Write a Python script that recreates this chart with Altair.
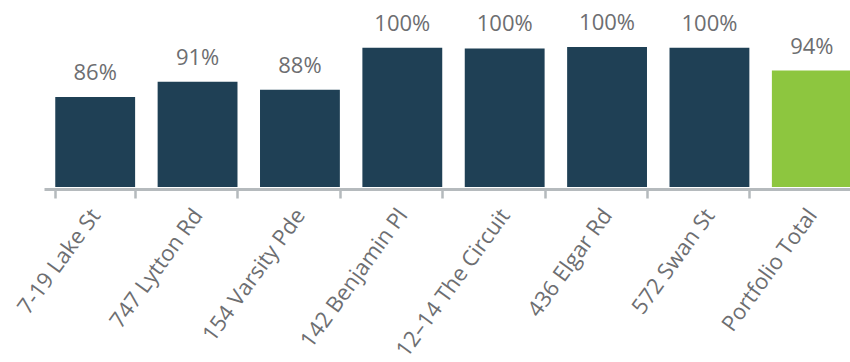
import altair as alt
import pandas as pd

properties = ["7-19 Lake St", "747 Lytton Rd", "154 Varsity Pde", "142 Benjamin Pl",
              "12\u201314 The Circuit", "436 Elgar Rd", "572 Swan St", "Portfolio Total"]
occupancy = [86.4, 90.6, 88.4, 99.8, 99.6, 100.0, 99.8, 93.6]
kind = ["asset"] * 7 + ["total"]
y_floor = 62

df = pd.DataFrame({"property": properties, "occupancy": occupancy, "kind": kind})

x = alt.X("property:N", sort=properties,
          scale=alt.Scale(paddingInner=0.22, paddingOuter=0.11, range=[0, 819]),
          axis=alt.Axis(title=None, labelAngle=-54, labelFontSize=22, labelColor="#6d6e71",
                        labelFont="Open Sans", labelPadding=13, tickBand="extent",
                        domainColor="#b5babd", domainWidth=3, tickColor="#b5babd",
                        tickWidth=2.5, tickSize=9, offset=2, labelOverlap=False))
y = alt.Y("occupancy:Q", scale=alt.Scale(domain=[y_floor, 100], zero=False, nice=False), axis=None)

bars = alt.Chart(df).mark_bar().encode(
    x=x, y=y, y2=alt.datum(y_floor),
    color=alt.Color("kind:N", scale=alt.Scale(domain=["asset", "total"],
                                               range=["#1f4055", "#8dc63f"]), legend=None),
)

labels = alt.Chart(df).transform_calculate(
    label="format(datum.occupancy, '.0f') + '%'"
).mark_text(baseline="bottom", dy=-12, fontSize=22, font="Open Sans", color="#6d6e71").encode(
    x=x, y=y, text="label:N"
)

chart = (bars + labels).properties(
    width=806, height=140,
    autosize=alt.AutoSizeParams(type="none"),
    padding={"left": 44, "top": 47, "right": 0, "bottom": 175},
).configure_view(stroke=None)

chart.save("out.html", embed_options={"renderer": "svg", "actions": False})
